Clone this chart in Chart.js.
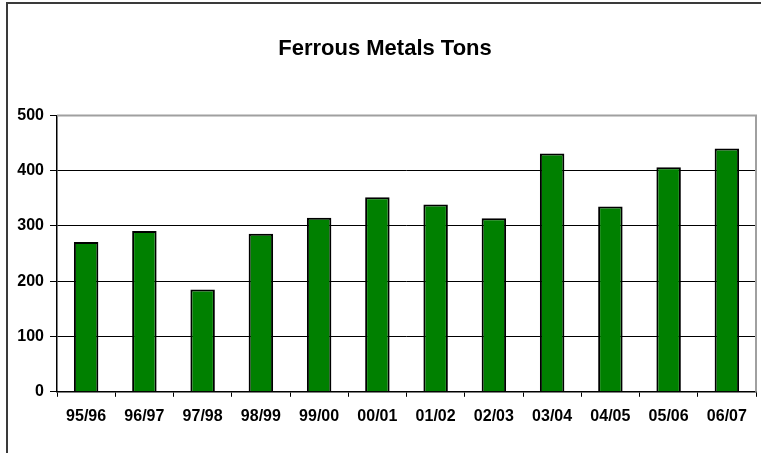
<!DOCTYPE html>
<html>
<head>
<meta charset="utf-8">
<script src="https://cdn.jsdelivr.net/npm/chart.js@4/dist/chart.umd.min.js"></script>
<style>
  html, body { margin: 0; padding: 0; background: #fff; }
  #wrap { position: relative; width: 761px; height: 453px; }
</style>
</head>
<body>
<div id="wrap"><canvas id="chart" width="761" height="453"></canvas></div>
<script>
const seasons = ['95/96', '96/97', '97/98', '98/99', '99/00', '00/01', '01/02', '02/03', '03/04', '04/05', '05/06', '06/07'];
const tons = [271, 291, 185, 286, 315, 352, 339, 314, 431, 335, 406, 440];
const yTicks = [0, 100, 200, 300, 400, 500];

const FONT = "Arial, 'Liberation Sans', sans-serif";

// outer frame + grey plot border (like the Excel chart)
const frame = {
  id: 'frame',
  beforeDraw(chart) {
    const ctx = chart.ctx;
    ctx.save();
    ctx.strokeStyle = '#3a3a3a';
    ctx.lineWidth = 2;
    ctx.beginPath();
    ctx.moveTo(7, 453);
    ctx.lineTo(7, 3);
    ctx.lineTo(761, 3);
    ctx.stroke();
    ctx.restore();
  },
  beforeDatasetsDraw(chart) {
    const { ctx, chartArea: a } = chart;
    ctx.save();
    ctx.strokeStyle = '#a0a0a0';
    ctx.lineWidth = 2;
    ctx.beginPath();
    ctx.moveTo(a.left, a.top);
    ctx.lineTo(a.right, a.top);
    ctx.lineTo(a.right, a.bottom);
    ctx.stroke();
    ctx.restore();
  }
};

new Chart(document.getElementById('chart').getContext('2d'), {
  type: 'bar',
  data: {
    labels: seasons,
    datasets: [{
      label: 'Ferrous Metals Tons',
      data: tons,
      backgroundColor: '#008000',
      borderColor: '#000',
      borderWidth: 2,
      categoryPercentage: 1,
      barPercentage: 0.42
    }]
  },
  options: {
    responsive: false,
    animation: false,
    layout: { padding: { top: 0, right: 5, bottom: 17, left: 14 } },
    plugins: {
      legend: { display: false },
      tooltip: { enabled: false },
      title: {
        display: true,
        text: 'Ferrous Metals Tons',
        color: '#000',
        font: { family: FONT, size: 22, weight: 'bold' },
        padding: { top: 36, bottom: 53 }
      }
    },
    scales: {
      x: {
        grid: { drawOnChartArea: false, drawTicks: true, tickLength: 5, color: '#000', tickColor: '#000' },
        border: { color: '#000', width: 1.5 },
        ticks: { color: '#000', padding: 10, font: { family: FONT, size: 16, weight: 'bold' }, maxRotation: 0 }
      },
      y: {
        min: 0,
        max: 500,
        afterFit(scale) { scale.width = 43; },
        afterBuildTicks(scale) { scale.ticks = yTicks.map(v => ({ value: v })); },
        grid: {
          color: ctx => (ctx.tick && ctx.tick.value === 500) ? 'rgba(0,0,0,0)' : '#000',
          lineWidth: 1,
          tickLength: 7,
          tickColor: '#000'
        },
        border: { color: '#000', width: 1.5 },
        ticks: { color: '#000', padding: 6, font: { family: FONT, size: 16, weight: 'bold' } }
      }
    }
  },
  plugins: [frame]
});
</script>
</body>
</html>
